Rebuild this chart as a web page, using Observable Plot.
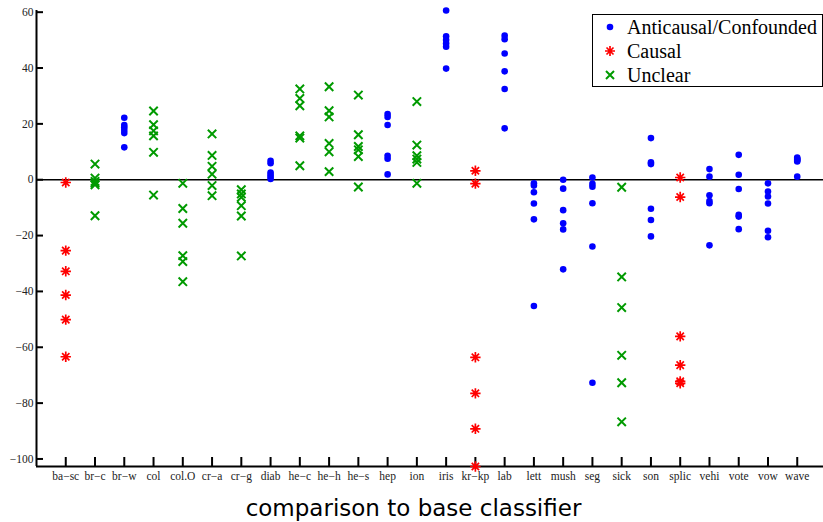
<!DOCTYPE html>
<html><head><meta charset="utf-8">
<script src="https://cdn.jsdelivr.net/npm/d3@7"></script>
<script src="https://cdn.jsdelivr.net/npm/@observablehq/plot@0.6"></script>
<style>
body{margin:0;background:#fff;}
#wrap{position:relative;width:823px;height:522px;overflow:hidden;background:#fff;}
#legend{position:absolute;left:592px;top:14px;width:229px;height:71px;border:1.5px solid #000;background:#fff;font-family:"Liberation Serif","Times New Roman",serif;font-size:20px;color:#000;}
.row{position:absolute;left:0;width:100%;height:24px;}
.row svg{position:absolute;left:8px;top:0;}
.row span{position:absolute;left:34px;top:0;line-height:24px;white-space:nowrap;}
#caption{position:absolute;left:2px;width:823px;text-align:center;top:497px;font-family:"DejaVu Sans",sans-serif;font-size:23px;line-height:23px;color:#000;}
</style>
</head><body>
<div id="wrap">
<div id="chart"></div>
<div id="legend">
  <div class="row" style="top:0px"><svg width="18" height="24"><circle cx="9" cy="12" r="3.3" fill="#0000ff"/></svg><span>Anticausal/Confounded</span></div>
  <div class="row" style="top:24px"><svg width="18" height="24"><g stroke="#ff0000" stroke-width="1.7"><path d="M4,12H14M9,7V17M5.5,8.5L12.5,15.5M5.5,15.5L12.5,8.5"/></g></svg><span>Causal</span></div>
  <div class="row" style="top:48px"><svg width="18" height="24"><g stroke="#009a00" stroke-width="2"><path d="M5,8L13,16M5,16L13,8"/></g></svg><span>Unclear</span></div>
</div>
<div id="caption">comparison to base classifier</div>
</div>
<script>
const categories = ["ba−sc","br−c","br−w","col","col.O","cr−a","cr−g","diab","he−c","he−h","he−s","hep","ion","iris","kr−kp","lab","lett","mush","seg","sick","son","splic","vehi","vote","vow","wave"];
const groups = ["Causal","Unclear","Anticausal/Confounded","Unclear","Unclear","Unclear","Unclear","Anticausal/Confounded","Unclear","Unclear","Unclear","Anticausal/Confounded","Unclear","Anticausal/Confounded","Causal","Anticausal/Confounded","Anticausal/Confounded","Anticausal/Confounded","Anticausal/Confounded","Unclear","Anticausal/Confounded","Causal","Anticausal/Confounded","Anticausal/Confounded","Anticausal/Confounded","Anticausal/Confounded"];
const values = [
  [-1.0, -25.4, -32.8, -41.3, -50.1, -63.4],
  [5.6, 0.6, -0.6, -1.2, -1.8, -12.9],
  [22.2, 19.6, 18.8, 17.8, 16.7, 11.6],
  [24.6, 19.7, 17.5, 15.7, 9.8, -5.5],
  [-1.3, -10.3, -15.6, -27.2, -29.3, -36.5],
  [16.4, 8.7, 4.8, 2.0, -2.1, -5.7],
  [-3.6, -5.1, -6.3, -9.3, -13.0, -27.3],
  [6.8, 5.9, 2.6, 1.8, 1.1, 0.3],
  [32.5, 29.1, 26.5, 15.7, 14.9, 5.0],
  [33.3, 24.7, 22.5, 13.0, 10.0, 2.9],
  [30.3, 16.1, 11.9, 10.7, 8.3, -2.6],
  [23.5, 22.5, 19.6, 8.6, 7.5, 1.9],
  [28.0, 12.4, 8.6, 7.4, 6.2, -1.3],
  [60.6, 51.4, 50.0, 48.8, 47.6, 39.8],
  [3.2, -1.4, -63.6, -76.5, -89.2, -102.7],
  [51.6, 50.3, 45.2, 38.8, 32.5, 18.4],
  [-1.3, -2.1, -4.5, -8.5, -14.2, -45.2],
  [0.0, -3.2, -10.9, -15.6, -17.8, -32.1],
  [0.8, -1.5, -2.5, -8.4, -23.9, -72.7],
  [-2.7, -34.8, -45.8, -62.9, -72.7, -86.7],
  [14.9, 6.2, 5.6, -10.4, -14.4, -20.3],
  [0.8, -6.2, -56.1, -66.4, -72.2, -72.9],
  [3.8, 1.1, -5.6, -7.6, -8.4, -23.5],
  [8.9, 1.8, -3.3, -12.6, -13.2, -17.7],
  [-1.3, -4.2, -6.0, -8.5, -18.3, -20.6],
  [7.9, 7.5, 7.2, 6.9, 6.5, 1.1]
];
const yTicks = [-100, -80, -60, -40, -20, 0, 20, 40, 60];
const yDomain = [-102.7, 60.6];
const groupColors = {"Anticausal/Confounded": "#0000ff", "Causal": "#ff0000", "Unclear": "#009a00"};

const xIndex = categories.map((c, i) => i);
const xDomain = [-1, categories.length];
const data = categories.flatMap((c, i) => values[i].map(v => ({i, cat: c, group: groups[i], value: v})));

const star8 = {draw(ctx, size) {
  const r = Math.sqrt(size / Math.PI), d = r * Math.SQRT1_2;
  ctx.moveTo(-r, 0); ctx.lineTo(r, 0);
  ctx.moveTo(0, -r); ctx.lineTo(0, r);
  ctx.moveTo(-d, -d); ctx.lineTo(d, d);
  ctx.moveTo(-d, d); ctx.lineTo(d, -d);
}};
const times = {draw(ctx, size) {
  const r = Math.sqrt(size / Math.PI);
  ctx.moveTo(-r, -r); ctx.lineTo(r, r);
  ctx.moveTo(-r, r); ctx.lineTo(r, -r);
}};

const W = 823, H = 490, ML = 36, MR = -3, MT = 10, MB = 24;
const frameW = W - ML - MR, frameH = H - MT - MB;

const chart = Plot.plot({
  width: W, height: H,
  marginLeft: ML, marginRight: MR, marginTop: MT, marginBottom: MB,
  x: {domain: xDomain},
  y: {domain: yDomain},
  style: {fontFamily: "'Liberation Serif', 'Times New Roman', serif", fontSize: "11.5px", color: "#222", background: "white", overflow: "visible"},
  marks: [
    Plot.ruleY([0], {stroke: "#000", strokeWidth: 1.5}),
    Plot.gridY(yTicks, {stroke: "#000", strokeOpacity: 1, strokeWidth: 2, insetRight: frameW - 7}),
    Plot.gridX(xIndex, {stroke: "#000", strokeOpacity: 1, strokeWidth: 2, insetTop: frameH - 9}),
    Plot.axisY(yTicks, {tickSize: 0, tickPadding: 3, label: null}),
    Plot.axisX(xIndex, {tickSize: 0, tickPadding: 5, label: null, tickFormat: i => categories[i]}),
    Plot.ruleX([xDomain[0]], {stroke: "#000", strokeWidth: 2}),
    Plot.ruleY([yDomain[0]], {stroke: "#000", strokeWidth: 2}),
    Plot.dot(data.filter(d => d.group === "Anticausal/Confounded"), {x: "i", y: "value", r: 3.3, fill: groupColors["Anticausal/Confounded"], stroke: "none"}),
    Plot.dot(data.filter(d => d.group === "Causal"), {x: "i", y: "value", r: 5.2, symbol: star8, fill: "none", stroke: groupColors["Causal"], strokeWidth: 1.7}),
    Plot.dot(data.filter(d => d.group === "Unclear"), {x: "i", y: "value", r: 4.2, symbol: times, fill: "none", stroke: groupColors["Unclear"], strokeWidth: 2})
  ]
});
document.getElementById("chart").appendChild(chart);
</script>
</body></html>
